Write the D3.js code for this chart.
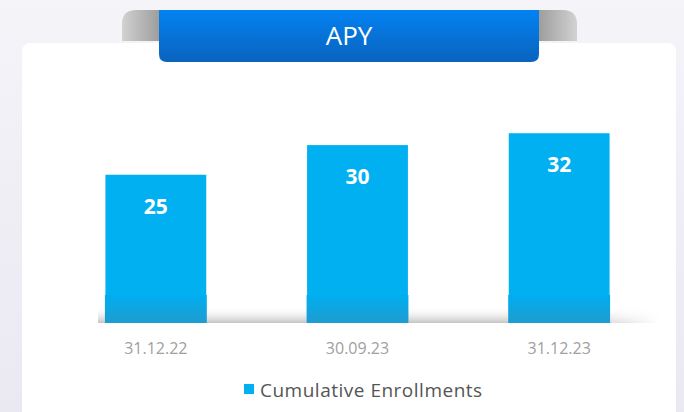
<!DOCTYPE html>
<html>
<head>
<meta charset="utf-8">
<script src="https://cdn.jsdelivr.net/npm/d3@7"></script>
<style>
  html, body { margin: 0; padding: 0; background: #f1f0f6; }
  #chart { width: 684px; height: 412px; }
</style>
</head>
<body>
<div id="chart"></div>
<script>
// data
var categories = ["31.12.22", "30.09.23", "31.12.23"];
var enrollments = [25, 30, 32];
var seriesName = "Cumulative Enrollments";
var title = "APY";

var data = categories.map(function (c, i) {
    return { date: c, value: enrollments[i] };
});

var W = 684, H = 412;
var barColor = "#00b0f0";

var svg = d3.select("#chart").append("svg")
    .attr("width", W)
    .attr("height", H);

var defs = svg.append("defs");

// page background
var bg = defs.append("linearGradient").attr("id", "bg")
    .attr("x1", 0).attr("y1", 0).attr("x2", 0).attr("y2", 1);
bg.append("stop").attr("offset", "0%").attr("stop-color", "#f5f4f9");
bg.append("stop").attr("offset", "100%").attr("stop-color", "#eae8f1");

var blue = defs.append("linearGradient").attr("id", "banner")
    .attr("x1", 0).attr("y1", 0).attr("x2", 0).attr("y2", 1);
blue.append("stop").attr("offset", "0%").attr("stop-color", "#0382f2");
blue.append("stop").attr("offset", "100%").attr("stop-color", "#0a63be");

var grayL = defs.append("linearGradient").attr("id", "grayL")
    .attr("x1", 0).attr("y1", 0).attr("x2", 1).attr("y2", 0);
grayL.append("stop").attr("offset", "0%").attr("stop-color", "#d2d2d2");
grayL.append("stop").attr("offset", "100%").attr("stop-color", "#9c9c9c");

var grayR = defs.append("linearGradient").attr("id", "grayR")
    .attr("x1", 0).attr("y1", 0).attr("x2", 1).attr("y2", 0);
grayR.append("stop").attr("offset", "0%").attr("stop-color", "#9c9c9c");
grayR.append("stop").attr("offset", "100%").attr("stop-color", "#d2d2d2");

// floor shadow
var floor = defs.append("linearGradient").attr("id", "floor")
    .attr("x1", 0).attr("y1", 0).attr("x2", 0).attr("y2", 1);
floor.append("stop").attr("offset", "0%").attr("stop-color", "#ffffff").attr("stop-opacity", 0);
floor.append("stop").attr("offset", "100%").attr("stop-color", "#c4c4c4");

var floorFade = defs.append("linearGradient").attr("id", "floorFade")
    .attr("x1", 0).attr("y1", 0).attr("x2", 1).attr("y2", 0);
floorFade.append("stop").attr("offset", "0%").attr("stop-color", "#fff").attr("stop-opacity", 0);
floorFade.append("stop").attr("offset", "85%").attr("stop-color", "#fff").attr("stop-opacity", 0);
floorFade.append("stop").attr("offset", "100%").attr("stop-color", "#fff").attr("stop-opacity", 1);

// bar base shading
var base = defs.append("linearGradient").attr("id", "barBase")
    .attr("x1", 0).attr("y1", 0).attr("x2", 0).attr("y2", 1);
base.append("stop").attr("offset", "0%").attr("stop-color", "#00aef0");
base.append("stop").attr("offset", "100%").attr("stop-color", "#1f9ccf");

svg.append("rect").attr("width", W).attr("height", H).attr("fill", "url(#bg)");

// white card
svg.append("rect")
    .attr("x", 22).attr("y", 43)
    .attr("width", 654).attr("height", 380)
    .attr("rx", 8)
    .attr("fill", "#ffffff");

// banner curls
svg.append("path")
    .attr("d", "M122,41 L122,24 Q122,10 136,10 L160,10 L160,41 Z")
    .attr("fill", "url(#grayL)");
svg.append("path")
    .attr("d", "M538,41 L538,10 L563,10 Q577,10 577,24 L577,41 Z")
    .attr("fill", "url(#grayR)");

// banner
svg.append("path")
    .attr("d", "M159,10 L539,10 L539,54 Q539,62 531,62 L167,62 Q159,62 159,54 Z")
    .attr("fill", "url(#banner)");

svg.append("text")
    .attr("x", 349).attr("y", 45)
    .attr("text-anchor", "middle")
    .attr("font-family", "Open Sans, sans-serif")
    .attr("font-size", 26)
    .attr("fill", "#ffffff")
    .text(title);

// scales
var x = d3.scaleBand()
    .domain(categories)
    .range([55, 660])
    .paddingInner(0.5)
    .paddingOuter(0.25);

var y = d3.scaleLinear()
    .domain([0, 40])
    .range([323, 323 - 40 * 5.93]);

// floor shadow strip
svg.append("rect")
    .attr("x", 98).attr("y", 306)
    .attr("width", 562).attr("height", 17)
    .attr("fill", "url(#floor)");
svg.append("rect")
    .attr("x", 98).attr("y", 306)
    .attr("width", 562).attr("height", 17)
    .attr("fill", "url(#floorFade)");

var g = svg.append("g");

// bars
g.selectAll("rect.bar")
    .data(data)
    .enter()
    .append("rect")
    .attr("class", "bar")
    .attr("x", function (d) { return x(d.date); })
    .attr("y", function (d) { return y(d.value); })
    .attr("width", x.bandwidth())
    .attr("height", function (d) { return y(0) - y(d.value); })
    .attr("fill", barColor);

// bar base section
g.selectAll("rect.base")
    .data(data)
    .enter()
    .append("rect")
    .attr("class", "base")
    .attr("x", function (d) { return x(d.date) - 0.5; })
    .attr("y", y(0) - 28)
    .attr("width", x.bandwidth() + 1)
    .attr("height", 28)
    .attr("fill", "url(#barBase)");

// value labels
g.selectAll("text.val")
    .data(data)
    .enter()
    .append("text")
    .attr("class", "val")
    .attr("x", function (d) { return x(d.date) + x.bandwidth() / 2; })
    .attr("y", function (d) { return y(d.value) + 39; })
    .attr("text-anchor", "middle")
    .attr("font-family", "Open Sans, sans-serif")
    .attr("font-weight", "bold")
    .attr("font-size", 21)
    .attr("fill", "#ffffff")
    .text(function (d) { return d.value; });

// x axis
var xAxis = g.append("g")
    .attr("transform", "translate(0," + 340 + ")")
    .call(d3.axisBottom(x).tickSize(0));
xAxis.select(".domain").remove();
xAxis.selectAll("text")
    .attr("dy", "0.71em")
    .attr("font-family", "Open Sans, sans-serif")
    .attr("font-size", 16)
    .attr("fill", "#a0a0a0");

// legend
var legend = svg.append("g");
legend.append("rect")
    .attr("x", 244).attr("y", 384)
    .attr("width", 10).attr("height", 10)
    .attr("fill", barColor);
legend.append("text")
    .attr("x", 260).attr("y", 397)
    .attr("font-family", "Open Sans, sans-serif")
    .attr("font-size", 19)
    .attr("letter-spacing", 0.5)
    .attr("fill", "#555555")
    .text(seriesName);
</script>
</body>
</html>
